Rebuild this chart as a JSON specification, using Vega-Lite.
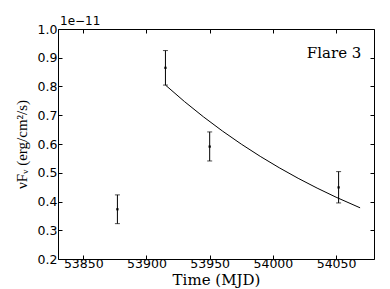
{
  "$schema": "https://vega.github.io/schema/vega-lite/v6.json",
  "width": 316,
  "height": 230,
  "autosize": "none",
  "padding": {"left": 58, "top": 29, "right": 16, "bottom": 30},
  "background": "white",
  "config": {
    "view": {"stroke": "black", "strokeWidth": 1},
    "axis": {
      "grid": false,
      "domain": false,
      "tickColor": "black",
      "tickSize": -4,
      "labelFont": "DejaVu Sans",
      "labelFontSize": 12.5,
      "labelColor": "black",
      "titleFont": "DejaVu Serif",
      "titleFontWeight": "normal",
      "titleFontSize": 15,
      "titleColor": "black"
    }
  },
  "datasets": {
    "obs": [
      {"t": 53877, "flux": 0.373, "lo": 0.323, "hi": 0.423},
      {"t": 53915, "flux": 0.865, "lo": 0.805, "hi": 0.925},
      {"t": 53950, "flux": 0.591, "lo": 0.541, "hi": 0.642},
      {"t": 54052, "flux": 0.449, "lo": 0.395, "hi": 0.504}
    ],
    "model": [
      {"t": 53915, "flux": 0.805},
      {"t": 53930, "flux": 0.7478},
      {"t": 53945, "flux": 0.6947},
      {"t": 53960, "flux": 0.6454},
      {"t": 53975, "flux": 0.5996},
      {"t": 53990, "flux": 0.557},
      {"t": 54005, "flux": 0.5175},
      {"t": 54020, "flux": 0.4807},
      {"t": 54035, "flux": 0.4466},
      {"t": 54050, "flux": 0.4149},
      {"t": 54069, "flux": 0.378}
    ]
  },
  "resolve": {"axis": {"x": "independent", "y": "independent"}},
  "layer": [
    {
      "data": {"name": "obs"},
      "mark": {"type": "rule", "color": "black", "strokeWidth": 1},
      "encoding": {
        "x": {
          "field": "t", "type": "quantitative",
          "scale": {"domain": [53830, 54080], "nice": false, "zero": false},
          "axis": {"orient": "bottom", "values": [53850, 53900, 53950, 54000, 54050], "format": "d", "title": "Time (MJD)", "labelPadding": 2, "titlePadding": 3}
        },
        "y": {
          "field": "lo", "type": "quantitative",
          "scale": {"domain": [0.2, 1.0], "nice": false, "zero": false},
          "axis": {"orient": "left", "values": [0.2, 0.3, 0.4, 0.5, 0.6, 0.7, 0.8, 0.9, 1.0], "format": ".1f", "title": "νFᵥ (erg/cm²/s)", "titleFont": "Liberation Serif", "titleFontSize": 15, "labelPadding": 5, "titlePadding": 8}
        },
        "y2": {"field": "hi"}
      }
    },
    {
      "data": {"name": "obs"},
      "mark": {"type": "tick", "orient": "horizontal", "color": "black", "size": 5, "thickness": 1},
      "encoding": {
        "x": {"field": "t", "type": "quantitative", "axis": null},
        "y": {"field": "lo", "type": "quantitative", "axis": null}
      }
    },
    {
      "data": {"name": "obs"},
      "mark": {"type": "tick", "orient": "horizontal", "color": "black", "size": 5, "thickness": 1},
      "encoding": {
        "x": {"field": "t", "type": "quantitative", "axis": null},
        "y": {"field": "hi", "type": "quantitative", "axis": null}
      }
    },
    {
      "data": {"name": "obs"},
      "mark": {"type": "square", "color": "black", "filled": true, "size": 5, "opacity": 1},
      "encoding": {
        "x": {"field": "t", "type": "quantitative", "axis": {"orient": "top", "values": [53850, 53900, 53950, 54000, 54050], "labels": false, "title": null}},
        "y": {"field": "flux", "type": "quantitative", "axis": {"orient": "right", "values": [0.2, 0.3, 0.4, 0.5, 0.6, 0.7, 0.8, 0.9, 1.0], "labels": false, "title": null}}
      }
    },
    {
      "data": {"name": "model"},
      "mark": {"type": "line", "color": "black", "strokeWidth": 1},
      "encoding": {
        "x": {"field": "t", "type": "quantitative", "axis": null},
        "y": {"field": "flux", "type": "quantitative", "axis": null}
      }
    },
    {
      "data": {"values": [{"label": "Flare 3"}]},
      "mark": {"type": "text", "font": "DejaVu Serif", "fontSize": 15, "align": "right", "baseline": "middle", "color": "black"},
      "encoding": {
        "x": {"datum": 54070, "type": "quantitative", "axis": null},
        "y": {"datum": 0.915, "type": "quantitative", "axis": null},
        "text": {"field": "label"}
      }
    },
    {
      "data": {"values": [{"label": "1e−11"}]},
      "mark": {"type": "text", "font": "DejaVu Sans", "fontSize": 12, "align": "left", "baseline": "bottom", "dx": 2, "dy": -1, "color": "black"},
      "encoding": {
        "x": {"datum": 53830, "type": "quantitative", "axis": null},
        "y": {"datum": 1.0, "type": "quantitative", "axis": null},
        "text": {"field": "label"}
      }
    }
  ]
}
